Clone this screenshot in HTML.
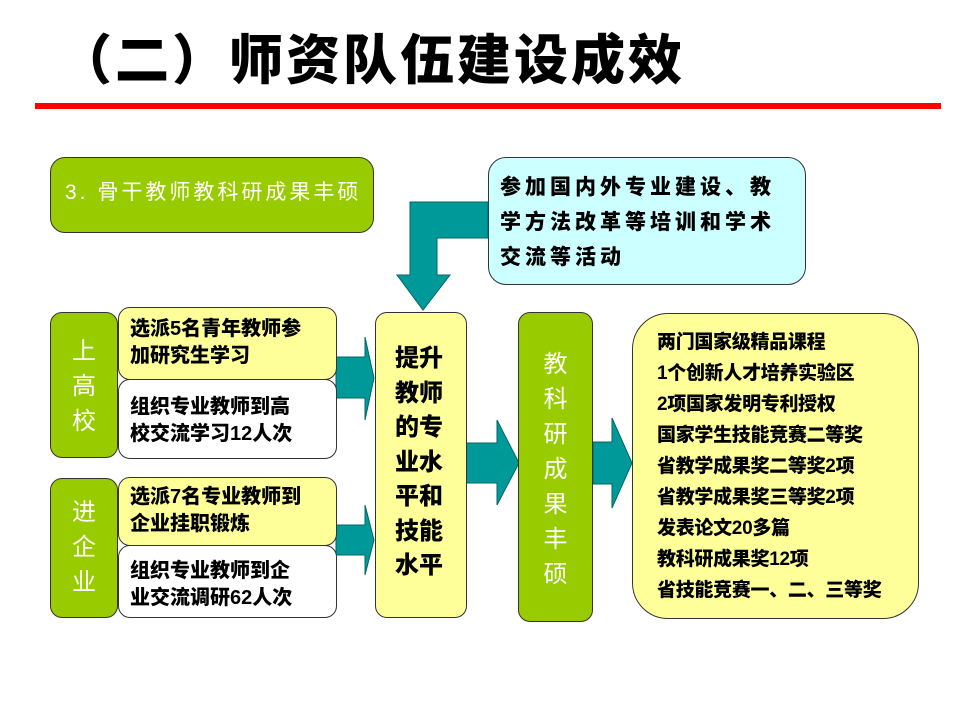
<!DOCTYPE html>
<html><head><meta charset="utf-8"><style>
body{margin:0;width:960px;height:720px;background:#fff;position:relative;overflow:hidden;font-family:"Liberation Sans","Noto Sans CJK SC",sans-serif;}
.a{position:absolute;box-sizing:border-box;}
.g{background:#99cc00;border:1.5px solid #333;}
.y{background:#ffff99;border:1.5px solid #333;}
.w{background:#fff;border:1.5px solid #333;}
.t{position:absolute;white-space:nowrap;font-weight:900;color:#000;}
.v{position:absolute;color:#fff;font-size:24px;text-align:center;line-height:35px;}
</style></head><body>
<div class="t" style="left:58px;top:26px;font-size:54px;letter-spacing:3px;line-height:70px;">（二）师资队伍建设成效</div>
<div class="a" style="left:35px;top:103px;width:906px;height:6px;background:#ff0000;"></div>

<div class="a g" style="left:50px;top:157px;width:324px;height:76px;border-radius:15px;"></div>
<div class="t" style="left:65px;top:178px;font-size:21px;color:#fff;font-weight:normal;letter-spacing:3px;line-height:30px;">3. 骨干教师教科研成果丰硕</div>

<div class="a" style="left:488px;top:157px;width:318px;height:128px;border-radius:18px;background:#ccffff;border:1.5px solid #333;"></div>
<div class="t" style="left:500px;top:170px;font-size:21px;letter-spacing:4px;line-height:35px;">参加国内外专业建设、教<br>学方法改革等培训和学术<br>交流等活动</div>

<svg class="a" style="left:0;top:0" width="960" height="720">
<g fill="#009999" stroke="#006666" stroke-width="1">
<polygon points="488,202 410,202 410,275 397,275 423,310 450,275 437,275 437,238 488,238"/>
<polygon points="336,357 365,357 365,337 374,378 365,420 365,398 336,398"/>
<polygon points="336,525 365,525 365,505 374,540 365,575 365,555 336,555"/>
<polygon points="466,443 497,443 497,420 519,463 497,505 497,483 466,483"/>
<polygon points="593,442 612,442 612,418 632,463 612,508 612,484 593,484"/>
</g></svg>

<div class="a g" style="left:50px;top:312px;width:68px;height:146px;border-radius:12px;"></div>
<div class="v" style="left:50px;top:334px;width:68px;">上<br>高<br>校</div>
<div class="a g" style="left:50px;top:478px;width:68px;height:140px;border-radius:12px;"></div>
<div class="v" style="left:50px;top:495px;width:68px;">进<br>企<br>业</div>

<div class="a y" style="left:118px;top:307px;width:219px;height:73px;border-radius:12px;"></div>
<div class="t" style="left:130px;top:316px;font-size:20px;line-height:27px;">选派5名青年教师参<br>加研究生学习</div>
<div class="a w" style="left:118px;top:379px;width:219px;height:80px;border-radius:12px;"></div>
<div class="t" style="left:130px;top:394px;font-size:20px;line-height:27px;">组织专业教师到高<br>校交流学习12人次</div>
<div class="a y" style="left:118px;top:477px;width:219px;height:69px;border-radius:12px;"></div>
<div class="t" style="left:130px;top:484px;font-size:20px;line-height:27px;">选派7名专业教师到<br>企业挂职锻炼</div>
<div class="a w" style="left:118px;top:545px;width:219px;height:73px;border-radius:12px;"></div>
<div class="t" style="left:130px;top:558px;font-size:20px;line-height:27px;">组织专业教师到企<br>业交流调研62人次</div>

<div class="a y" style="left:375px;top:312px;width:92px;height:306px;border-radius:12px;"></div>
<div class="t" style="left:395px;top:342px;font-size:24px;line-height:34.5px;">提升<br>教师<br>的专<br>业水<br>平和<br>技能<br>水平</div>

<div class="a g" style="left:518px;top:312px;width:75px;height:310px;border-radius:12px;"></div>
<div class="v" style="left:518px;top:347px;width:75px;">教<br>科<br>研<br>成<br>果<br>丰<br>硕</div>

<div class="a y" style="left:632px;top:313px;width:287px;height:306px;border-radius:36px;"></div>
<div class="t" style="left:657px;top:327px;font-size:19px;line-height:31px;letter-spacing:-0.3px;">两门国家级精品课程<br>1个创新人才培养实验区<br>2项国家发明专利授权<br>国家学生技能竞赛二等奖<br>省教学成果奖二等奖2项<br>省教学成果奖三等奖2项<br>发表论文20多篇<br>教科研成果奖12项<br>省技能竞赛一、二、三等奖</div>
</body></html>
